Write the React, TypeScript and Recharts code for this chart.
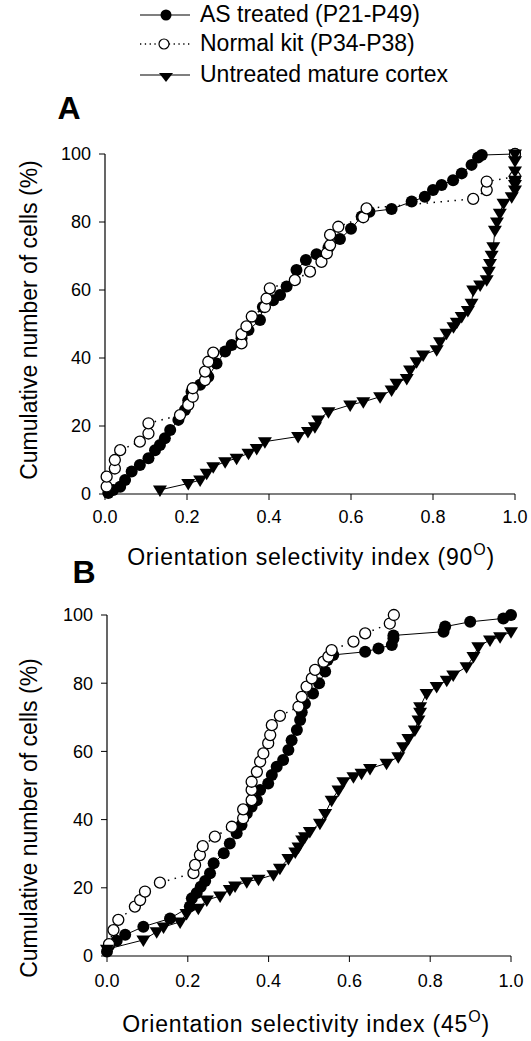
import React from 'react'
import { ScatterChart, Scatter, XAxis, YAxis } from 'recharts'

const FONT = "'Liberation Sans', Arial, Helvetica, sans-serif"

// Panel A — orientation selectivity index (90°)
const asA_x = [0.008, 0.02, 0.037, 0.049, 0.065, 0.085, 0.106, 0.122, 0.134, 0.146, 0.159, 0.179, 0.195, 0.203, 0.211, 0.232, 0.252, 0.272, 0.293, 0.309, 0.333, 0.35, 0.378, 0.385, 0.41, 0.427, 0.443, 0.467, 0.49, 0.516, 0.545, 0.573, 0.6, 0.626, 0.645, 0.699, 0.748, 0.78, 0.8, 0.821, 0.849, 0.87, 0.894, 0.91, 0.919, 1.0]
const asA_y = [0.3, 1.2, 2.1, 4.1, 6.6, 8.5, 10.5, 12.9, 14.4, 16.4, 18.8, 21.8, 24.7, 27.6, 30.1, 32.1, 34.5, 38.4, 41.9, 43.8, 45.8, 48.2, 51.2, 55, 57, 58.5, 61, 65.9, 68.8, 70.5, 72.5, 75, 78, 81.6, 83, 83.8, 86, 87.4, 89.4, 90.9, 92.3, 94.3, 96.8, 99, 99.7, 100]

const nkA_x = [0.004, 0.004, 0.024, 0.024, 0.037, 0.085, 0.106, 0.106, 0.183, 0.203, 0.214, 0.214, 0.244, 0.244, 0.252, 0.264, 0.333, 0.333, 0.345, 0.358, 0.39, 0.394, 0.402, 0.463, 0.5, 0.528, 0.541, 0.549, 0.549, 0.569, 0.63, 0.638, 0.898, 0.931, 0.931, 1.0, 1.0]
const nkA_y = [2.2, 5.1, 7.5, 10, 12.9, 15.4, 17.8, 20.8, 23.2, 26.2, 28.6, 31.1, 33.5, 36, 38.9, 41.6, 44.3, 47, 49.3, 52.2, 55, 57.5, 60.5, 62.9, 65.4, 68.3, 70.8, 73.2, 76.2, 78.6, 81.4, 84, 86.8, 89.4, 91.9, 93.3, 100]

const utA_x = [0.134, 0.203, 0.232, 0.248, 0.264, 0.293, 0.321, 0.35, 0.37, 0.39, 0.471, 0.495, 0.512, 0.52, 0.545, 0.598, 0.63, 0.671, 0.699, 0.711, 0.736, 0.744, 0.76, 0.776, 0.809, 0.817, 0.833, 0.85, 0.858, 0.87, 0.885, 0.894, 0.898, 0.915, 0.931, 0.936, 0.939, 0.943, 0.947, 0.951, 0.956, 0.963, 0.972, 0.992, 1.0, 1.0, 1.0, 1.0, 1.0, 1.0]
const utA_y = [1.2, 3.1, 4.1, 6.1, 8, 9.5, 10.5, 12, 13.4, 15.4, 16.9, 18.4, 19.8, 21.8, 24.2, 26.2, 27.1, 28.6, 30.6, 32.6, 34, 36.5, 38.9, 40.9, 42.4, 44.8, 47.3, 49.2, 50.5, 52.2, 54, 56.1, 60, 61.5, 63, 65.5, 67.8, 70.2, 72.7, 77.6, 80, 82.6, 85.5, 87.4, 89.4, 91, 92.3, 95, 98, 100]

// Panel B — orientation selectivity index (45°)
const asB_x = [0.0, 0.005, 0.024, 0.045, 0.09, 0.156, 0.205, 0.21, 0.222, 0.232, 0.243, 0.255, 0.264, 0.289, 0.304, 0.321, 0.333, 0.346, 0.358, 0.371, 0.379, 0.399, 0.408, 0.42, 0.436, 0.449, 0.457, 0.47, 0.478, 0.482, 0.49, 0.51, 0.525, 0.54, 0.546, 0.56, 0.639, 0.672, 0.705, 0.709, 0.709, 0.833, 0.837, 0.899, 0.981, 1.0]
const asB_y = [1.3, 3, 4.5, 6.2, 8.6, 11, 14.5, 16.9, 18.5, 20.3, 22, 24.3, 27.2, 30.1, 33, 36, 38.4, 41.8, 43.8, 45.7, 48.7, 50.6, 53.1, 55.5, 57.5, 60.4, 63.3, 66.3, 69.2, 71.5, 74, 77, 80, 83.4, 86.8, 88.3, 89.2, 90.2, 91.2, 93.1, 94, 95.1, 96.6, 98, 99, 100]

const nkB_x = [0.005, 0.016, 0.028, 0.069, 0.082, 0.094, 0.131, 0.214, 0.218, 0.23, 0.237, 0.267, 0.309, 0.337, 0.337, 0.358, 0.358, 0.358, 0.371, 0.379, 0.387, 0.399, 0.404, 0.408, 0.428, 0.474, 0.482, 0.494, 0.507, 0.515, 0.536, 0.548, 0.556, 0.61, 0.639, 0.7, 0.71]
const nkB_y = [3.5, 7.6, 10.6, 14.5, 16.4, 18.9, 21.5, 24.3, 26.7, 29.6, 32.2, 35, 37.9, 40.4, 43, 45.7, 48.7, 51.1, 54, 57, 59.4, 62.4, 64.8, 67.7, 70.4, 73.1, 76, 79, 81.4, 83.9, 86.3, 87.8, 89.7, 92.2, 94.6, 97.5, 100]

const utB_x = [0.0, 0.09, 0.123, 0.14, 0.181, 0.197, 0.226, 0.247, 0.28, 0.304, 0.317, 0.346, 0.375, 0.412, 0.428, 0.449, 0.466, 0.474, 0.483, 0.49, 0.502, 0.527, 0.54, 0.556, 0.573, 0.585, 0.61, 0.63, 0.651, 0.692, 0.721, 0.733, 0.746, 0.762, 0.771, 0.775, 0.775, 0.791, 0.816, 0.841, 0.857, 0.89, 0.907, 0.919, 0.948, 0.973, 1.0]
const utB_y = [2, 4.7, 7.1, 8.5, 10, 12.5, 14, 16.4, 17.6, 19.5, 20.5, 21.8, 22.5, 23.8, 25.7, 28.6, 30.5, 32, 34, 35, 36.5, 38.9, 41.8, 45.7, 48.7, 51.1, 52.6, 53.6, 55, 56.5, 58.4, 61.4, 63.8, 66.3, 69.2, 71.5, 73.1, 77, 79, 80.9, 82.4, 84.8, 87.8, 90.7, 92.7, 93.6, 95.1]

const xTicks = [0, 0.2, 0.4, 0.6, 0.8, 1.0]
const yTicks = [0, 20, 40, 60, 80, 100]

const zip = (xs: number[], ys: number[]) => xs.map((x, i) => ({ x, y: ys[i] }))

const FilledDot = (p: any) => <circle cx={p.cx} cy={p.cy} r={6} fill="#000" />
const OpenDot = (p: any) => (
  <circle cx={p.cx} cy={p.cy} r={5.5} fill="#fff" stroke="#000" strokeWidth={1.3} />
)
const Tri = (p: any) => (
  <path d={`M${p.cx - 7},${p.cy - 4.5}L${p.cx + 7},${p.cy - 4.5}L${p.cx},${p.cy + 7}Z`} fill="#000" />
)

const axisStyle = {
  axisLine: { stroke: '#000', strokeWidth: 1.2 },
  tickLine: { stroke: '#000', strokeWidth: 1 },
  tick: { fill: '#000', fontSize: 18, fontFamily: FONT },
  tickSize: 6,
}

type PanelProps = {
  top: number
  height: number
  margin: { top: number; right: number; bottom: number; left: number }
  yWidth: number
  xHeight: number
  xTickMargin: number
  as: { x: number; y: number }[]
  nk: { x: number; y: number }[]
  ut: { x: number; y: number }[]
}

function Panel({ top, height, margin, yWidth, xHeight, xTickMargin, as, nk, ut }: PanelProps) {
  return (
    <div style={{ position: 'absolute', left: 0, top }}>
      <ScatterChart width={531} height={height} margin={margin}>
        <XAxis
          type="number"
          dataKey="x"
          domain={[0, 1]}
          ticks={xTicks}
          interval={0}
          tickFormatter={(v: number) => v.toFixed(1)}
          height={xHeight}
          tickMargin={xTickMargin}
          {...axisStyle}
        />
        <YAxis
          type="number"
          dataKey="y"
          domain={[0, 100]}
          ticks={yTicks}
          interval={0}
          width={yWidth}
          tickMargin={8}
          {...axisStyle}
        />
        <Scatter
          data={as}
          fill="#000"
          shape={FilledDot}
          line={{ stroke: '#000', strokeWidth: 1 }}
          isAnimationActive={false}
        />
        <Scatter
          data={nk}
          fill="#000"
          shape={OpenDot}
          line={{ stroke: '#000', strokeWidth: 1.5, strokeDasharray: '1.5 5.5' }}
          isAnimationActive={false}
        />
        <Scatter
          data={ut}
          fill="#000"
          shape={Tri}
          line={{ stroke: '#000', strokeWidth: 1 }}
          isAnimationActive={false}
        />
      </ScatterChart>
    </div>
  )
}

const legendRows = [
  { label: 'AS treated (P21-P49)', kind: 'filled' },
  { label: 'Normal kit (P34-P38)', kind: 'open' },
  { label: 'Untreated mature cortex', kind: 'tri' },
]
const legendLineY = [15, 44, 75]

export default function App() {
  return (
    <div style={{ position: 'absolute', left: 0, top: 0, width: 531, height: 1041, background: '#fff' }}>
      <Panel
        top={130}
        height={420}
        margin={{ top: 24, right: 16, bottom: 0, left: 0 }}
        yWidth={105}
        xHeight={56}
        xTickMargin={10}
        as={zip(asA_x, asA_y)}
        nk={zip(nkA_x, nkA_y)}
        ut={zip(utA_x, utA_y)}
      />
      <Panel
        top={590}
        height={400}
        margin={{ top: 25, right: 20, bottom: 0, left: 0 }}
        yWidth={107}
        xHeight={34}
        xTickMargin={12}
        as={zip(asB_x, asB_y)}
        nk={zip(nkB_x, nkB_y)}
        ut={zip(utB_x, utB_y)}
      />
      <svg
        width={531}
        height={1041}
        style={{ position: 'absolute', left: 0, top: 0, pointerEvents: 'none' }}
        fontFamily={FONT}
      >
        {/* legend */}
        {legendRows.map((r, i) => {
          const y = legendLineY[i]
          return (
            <g key={r.label}>
              {r.kind === 'open' ? (
                <line x1={140} x2={190} y1={y} y2={y} stroke="#000" strokeWidth={1.3} strokeDasharray="1.3 3.5" />
              ) : (
                <line x1={140} x2={190} y1={y} y2={y} stroke="#000" strokeWidth={1.2} />
              )}
              {r.kind === 'filled' && <circle cx={166} cy={y} r={5.5} fill="#000" />}
              {r.kind === 'open' && <circle cx={164} cy={y} r={5} fill="#fff" stroke="#000" strokeWidth={1.2} />}
              {r.kind === 'tri' && <path d={`M${159},${y - 2}L${173},${y - 2}L${166},${y + 7}Z`} fill="#000" />}
              <text x={200} y={y + 7} fontSize={23} fill="#000">
                {r.label}
              </text>
            </g>
          )
        })}

        {/* panel letters */}
        <text x={69} y={119} fontSize={32} fontWeight="bold" textAnchor="middle" fill="#000">A</text>
        <text x={84} y={583} fontSize={32} fontWeight="bold" textAnchor="middle" fill="#000">B</text>

        {/* axis titles */}
        <text transform="translate(37,320) rotate(-90)" fontSize={23} textAnchor="middle" fill="#000">
          Cumulative number of cells (%)
        </text>
        <text transform="translate(37,818) rotate(-90)" fontSize={23} textAnchor="middle" fill="#000">
          Cumulative number of cells (%)
        </text>
        <text x={311} y={565} fontSize={23} textAnchor="middle" fill="#000" letterSpacing={0.8}>
          Orientation selectivity index (90<tspan dy={-10} fontSize={16}>O</tspan>
          <tspan dy={10}>)</tspan>
        </text>
        <text x={306} y={1032} fontSize={23} textAnchor="middle" fill="#000" letterSpacing={0.8}>
          Orientation selectivity index (45<tspan dy={-10} fontSize={16}>O</tspan>
          <tspan dy={10}>)</tspan>
        </text>
      </svg>
    </div>
  )
}
